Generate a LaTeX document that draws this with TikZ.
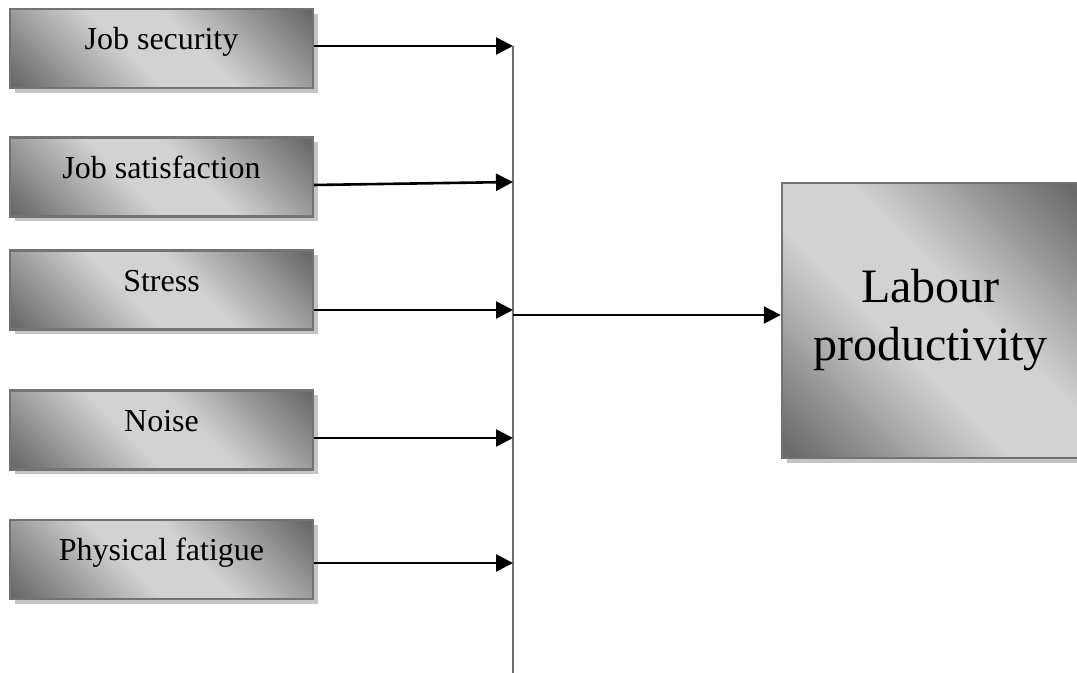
\documentclass[tikz,border=0pt]{standalone}
\usepackage{fontspec}
\setmainfont{Liberation Serif}
\usetikzlibrary{arrows.meta,shadows}
\definecolor{boxdark}{RGB}{105,105,105}
\definecolor{boxlight}{RGB}{210,210,210}
\definecolor{boxedge}{RGB}{115,115,115}
\definecolor{shadowgray}{RGB}{196,196,196}
\definecolor{busgray}{RGB}{110,110,110}
\pgfdeclareverticalshading{diagband}{100bp}{color(0bp)=(boxdark); color(16bp)=(boxdark);
  color(43bp)=(boxlight); color(57bp)=(boxlight); color(84bp)=(boxdark); color(100bp)=(boxdark)}
\tikzset{
  shadebox/.style={draw=boxedge, line width=1.2pt, shading=diagband,
    shading angle=-45,
    drop shadow={shadow xshift=2.5pt, shadow yshift=-2.5pt, fill=shadowgray, opacity=1}},
  factor/.style={shadebox, minimum width=151.5pt, minimum height=39.5pt,
    inner sep=0pt, text height=11pt, text depth=9.5pt,
    font=\fontsize{16pt}{19pt}\selectfont},
  outcome/.style={shadebox, minimum width=148.5pt, minimum height=137.5pt,
    inner sep=0pt, align=center, font=\fontsize{24pt}{29pt}\selectfont},
  link/.style={line width=1.3pt, -{Triangle[length=8.5pt,width=8.5pt]}},
  bus/.style={draw=busgray, line width=1.2pt}
}
\begin{document}
\begin{tikzpicture}[x=0.5pt,y=-0.5pt]
      \useasboundingbox (0,0) rectangle (1077,673);
      \node[factor] (sec) at (161.5,48.5) {Job security};
      \node[factor] (sat) at (161.5,177) {Job satisfaction};
      \node[factor] (str) at (161.5,290) {Stress};
      \node[factor] (noi) at (161.5,430) {Noise};
      \node[factor] (fat) at (161.5,559.5) {Physical fatigue};
      \node[outcome] (prod) at (930.5,320.5) {Labour\\productivity};
      % the collecting line
      \coordinate (top) at (513,46);
      \coordinate (foot) at (513,673);
      \coordinate (b1) at (513,46);
      \coordinate (b2) at (513,182);
      \coordinate (b3) at (513,310);
      \coordinate (b4) at (513,438);
      \coordinate (b5) at (513,563);
      \coordinate (hub) at (513,315);
      \draw[bus] (top) -- (foot);
      \begin{scope}[link]
        \draw (b1 -| sec.east) -- (b1);
        \draw ([yshift=-4pt]sat.east) -- (b2);
        \draw (b3 -| str.east) -- (b3);
        \draw (b4 -| noi.east) -- (b4);
        \draw (b5 -| fat.east) -- (b5);
        \draw (hub) -- (hub -| prod.west);
      \end{scope}
    \end{tikzpicture}
\end{document}
